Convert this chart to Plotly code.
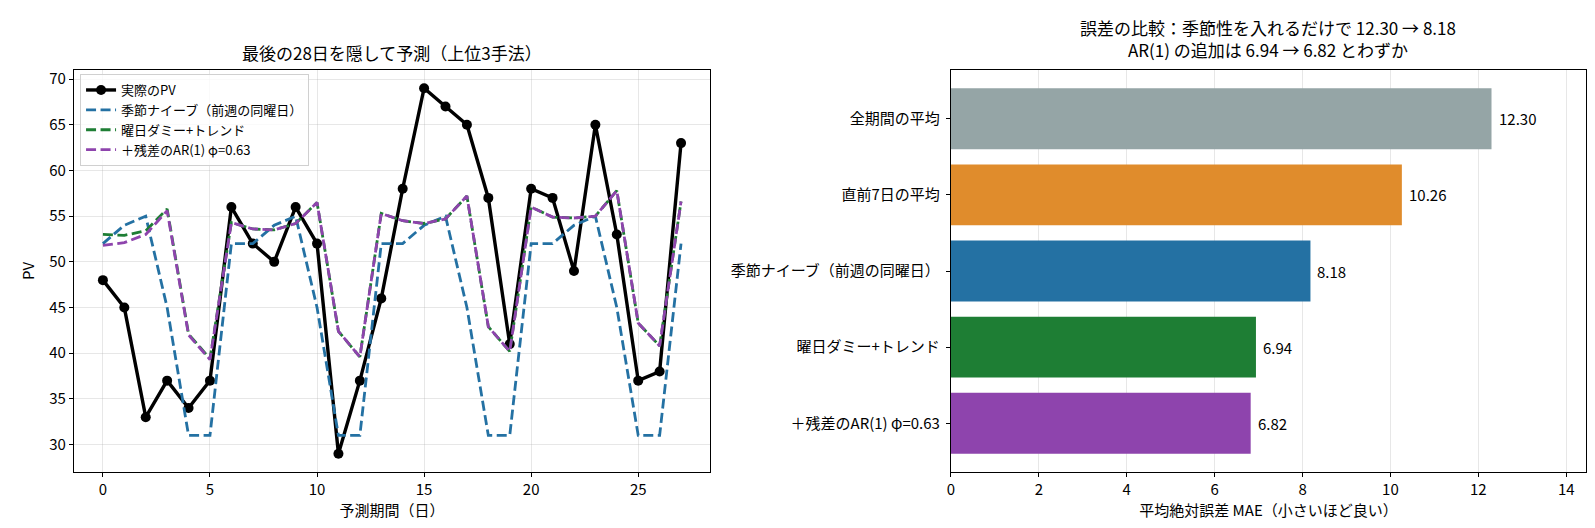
import plotly.graph_objects as go

# --- data ---
days = list(range(28))
actual_pv = [48, 45, 33, 37, 34, 37, 56, 52, 50, 56, 52, 29, 37, 46,
             58, 69, 67, 65, 57, 41, 58, 57, 49, 65, 53, 37, 38, 63]
seasonal_naive = [52, 54, 55, 45, 31, 31, 52, 52, 54, 55, 45, 31, 31, 52,
                  52, 54, 55, 45, 31, 31, 52, 52, 54, 55, 45, 31, 31, 52]
dow_trend = [53.0, 52.9, 53.4, 55.8, 42.1, 39.4, 54.3, 53.6, 53.5, 54.2, 56.5, 42.4, 39.6, 55.3,
             54.5, 54.2, 54.7, 57.2, 42.9, 40.2, 56.0, 54.9, 54.8, 55.0, 57.8, 43.3, 40.8, 56.6]
dow_trend_ar1 = [51.8, 52.1, 53.0, 55.6, 42.0, 39.3, 54.3, 53.6, 53.5, 54.2, 56.5, 42.4, 39.6, 55.3,
                 54.5, 54.2, 54.7, 57.2, 42.9, 40.2, 56.0, 54.9, 54.8, 55.0, 57.8, 43.3, 40.8, 56.6]

methods = ["全期間の平均", "直前7日の平均", "季節ナイーブ（前週の同曜日）",
           "曜日ダミー+トレンド", "＋残差のAR(1) φ=0.63"]
mae = [12.30, 10.26, 8.18, 6.94, 6.82]
bar_colors = ["#95a5a6", "#e08c2c", "#2471a3", "#1e7e34", "#8e44ad"]

FONT = "Noto Sans CJK JP, Noto Sans, sans-serif"
GRID = "rgba(176,176,176,0.3)"

fig = go.Figure()

fig.add_trace(go.Scatter(x=days, y=actual_pv, name="実際のPV", mode="lines+markers",
                         line=dict(color="black", width=3.4),
                         marker=dict(color="black", size=10),
                         xaxis="x", yaxis="y"))
fig.add_trace(go.Scatter(x=days, y=seasonal_naive, name="季節ナイーブ（前週の同曜日）", mode="lines",
                         line=dict(color="#2471a3", width=2.8, dash="10px,4.5px"),
                         xaxis="x", yaxis="y"))
fig.add_trace(go.Scatter(x=days, y=dow_trend, name="曜日ダミー+トレンド", mode="lines",
                         line=dict(color="#1e7e34", width=2.8, dash="10px,4.5px"),
                         xaxis="x", yaxis="y"))
fig.add_trace(go.Scatter(x=days, y=dow_trend_ar1, name="＋残差のAR(1) φ=0.63", mode="lines",
                         line=dict(color="#8e44ad", width=2.8, dash="10px,4.5px"),
                         xaxis="x", yaxis="y"))

fig.add_trace(go.Bar(x=mae, y=methods, orientation="h", width=0.8,
                     marker=dict(color=bar_colors, line=dict(width=0)),
                     showlegend=False, xaxis="x2", yaxis="y2"))

# value labels next to the bars
annotations = []
for m, v in zip(methods, mae):
    annotations.append(dict(x=v, y=m, xref="x2", yref="y2", text=f"{v:.2f}",
                            showarrow=False, xanchor="left", xshift=5,
                            font=dict(size=15, color="black")))

# subplot titles
annotations.append(dict(x=0.2103, y=1, xref="paper", yref="paper", xanchor="center",
                        yanchor="bottom", yshift=3,
                        text="最後の28日を隠して予測（上位3手法）", showarrow=False,
                        font=dict(size=17, color="black")))
annotations.append(dict(x=0.79, y=1, xref="paper", yref="paper", xanchor="center",
                        yanchor="bottom", yshift=6,
                        text="誤差の比較：季節性を入れるだけで 12.30 → 8.18<br>AR(1) の追加は 6.94 → 6.82 とわずか",
                        showarrow=False, font=dict(size=17, color="black")))

axis_common = dict(showline=True, linecolor="black", linewidth=1.2, mirror=True,
                   ticks="outside", ticklen=4, tickcolor="black",
                   tickfont=dict(size=15, color="black"), zeroline=False)

fig.update_layout(
    width=1595, height=528,
    paper_bgcolor="white", plot_bgcolor="white",
    font=dict(family=FONT, color="black"),
    margin=dict(l=66, r=17, t=62, b=64),
    xaxis=dict(domain=[0, 0.4206], range=[-1.35, 28.35], tickvals=[0, 5, 10, 15, 20, 25],
               showgrid=True, gridcolor=GRID,
               title=dict(text="予測期間（日）", font=dict(size=15), standoff=5), **axis_common),
    yaxis=dict(range=[27, 71], tickvals=[30, 35, 40, 45, 50, 55, 60, 65, 70],
               showgrid=True, gridcolor=GRID,
               title=dict(text="PV", font=dict(size=15), standoff=10), **axis_common),
    xaxis2=dict(domain=[0.58, 1], range=[0, 14.45], tickvals=[0, 2, 4, 6, 8, 10, 12, 14],
                showgrid=True, gridcolor=GRID, layer="above traces", anchor="y2",
                title=dict(text="平均絶対誤差 MAE（小さいほど良い）", font=dict(size=15), standoff=5),
                **axis_common),
    yaxis2=dict(anchor="x2", type="category", categoryorder="array", categoryarray=methods,
                range=[4.64, -0.64], showgrid=False, ticklabelstandoff=3, **axis_common),
    legend=dict(x=0.004, y=0.99, xanchor="left", yanchor="top",
                bgcolor="rgba(255,255,255,0.8)", bordercolor="#d0d0d0", borderwidth=1,
                font=dict(size=13, color="black"), tracegroupgap=0, itemwidth=30),
    annotations=annotations,
    bargap=0.2,
)

fig.write_html("out.html")
